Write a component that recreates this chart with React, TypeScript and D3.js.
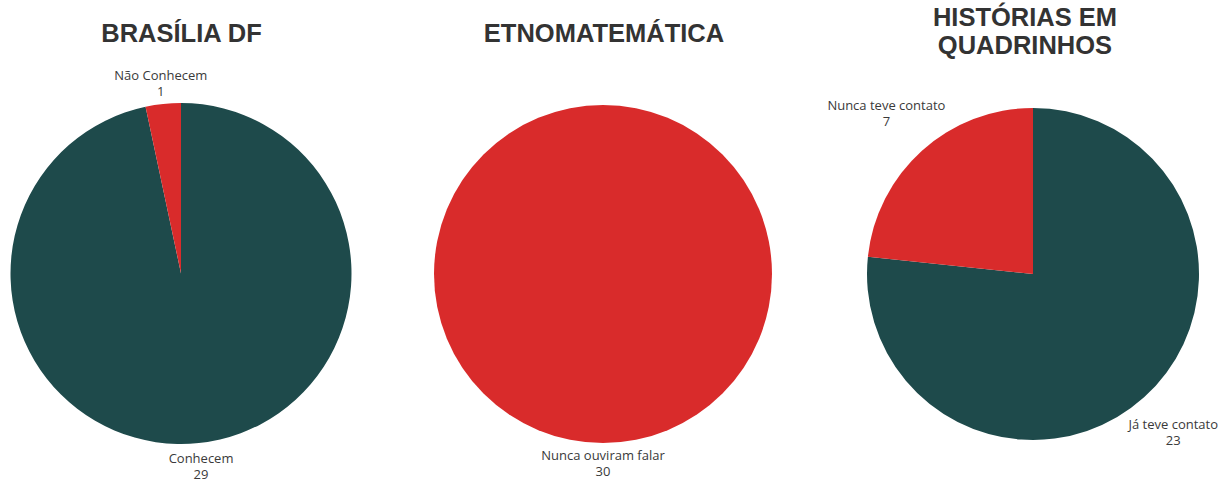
import React from "react";
import * as d3 from "d3";

const GREEN = "#1e4a4b";
const RED = "#d92b2b";

const titles1 = ["BRASÍLIA DF"];
const titles2 = ["ETNOMATEMÁTICA"];
const titles3 = ["HISTÓRIAS EM", "QUADRINHOS"];

const labels1 = ["Conhecem", "Não Conhecem"];
const values1 = [29, 1];
const colors1 = [GREEN, RED];

const labels2 = ["Nunca ouviram falar"];
const values2 = [30];
const colors2 = [RED];

const labels3 = ["Já teve contato", "Nunca teve contato"];
const values3 = [23, 7];
const colors3 = [GREEN, RED];

const W = 1223;
const H = 479;
const LABEL_FONT = "13px 'Open Sans'";

let ctx: CanvasRenderingContext2D | null = null;
function textWidth(s: string) {
  try {
    if (!ctx) ctx = document.createElement("canvas").getContext("2d");
    if (ctx) {
      ctx.font = LABEL_FONT;
      return ctx.measureText(s).width;
    }
  } catch (e) {}
  return s.length * 6.6;
}

type PieProps = {
  cx: number;
  cy: number;
  r: number;
  title: string[];
  titleX: number;
  titleY: number;
  labels: string[];
  values: number[];
  colors: string[];
};

function Pie({ cx, cy, r, title, titleX, titleY, labels, values, colors }: PieProps) {
  const pie = d3.pie<number>().sort(null).value((d) => d);
  const arcs = pie(values);
  const arc = d3.arc<d3.PieArcDatum<number>>().innerRadius(0).outerRadius(r);
  return (
    <g>
      {title.map((t, i) => (
        <text
          key={i}
          x={titleX}
          y={titleY + i * 28}
          textAnchor="middle"
          fontFamily="'Liberation Sans', Arial, sans-serif"
          fontWeight="bold"
          fontSize={25.5}
          fill="#333333"
        >
          {t}
        </text>
      ))}
      <g transform={`translate(${cx},${cy})`}>
        {arcs.map((a, i) => (
          <path key={i} d={arc(a) || ""} fill={colors[i]} />
        ))}
        {arcs.map((a, i) => {
          const mid = (a.startAngle + a.endAngle) / 2;
          const s = Math.sin(mid);
          const c = -Math.cos(mid);
          const w = Math.max(textWidth(labels[i]), 16);
          const h = 34;
          const dist = r + 1 + Math.abs(s) * (w / 2) + Math.abs(c) * (h / 2);
          const lx = s * dist;
          const ly = c * dist;
          return (
            <g key={"l" + i} fontFamily="'Open Sans', sans-serif" fontSize={13} fill="#3a3a3a" textAnchor="middle">
              <text x={lx} y={ly - 1}>{labels[i]}</text>
              <text x={lx} y={ly + 15}>{values[i]}</text>
            </g>
          );
        })}
      </g>
    </g>
  );
}

export default function App() {
  return (
    <svg width={W} height={H} style={{ position: "absolute", left: 0, top: 0, background: "#fff" }}>
      <rect width={W} height={H} fill="#fff" />
      <Pie cx={181} cy={273.5} r={170.5} title={titles1} titleX={181.5} titleY={42} labels={labels1} values={values1} colors={colors1} />
      <Pie cx={603} cy={274} r={169} title={titles2} titleX={604} titleY={42} labels={labels2} values={values2} colors={colors2} />
      <Pie cx={1033} cy={274} r={166} title={titles3} titleX={1025} titleY={26} labels={labels3} values={values3} colors={colors3} />
    </svg>
  );
}
